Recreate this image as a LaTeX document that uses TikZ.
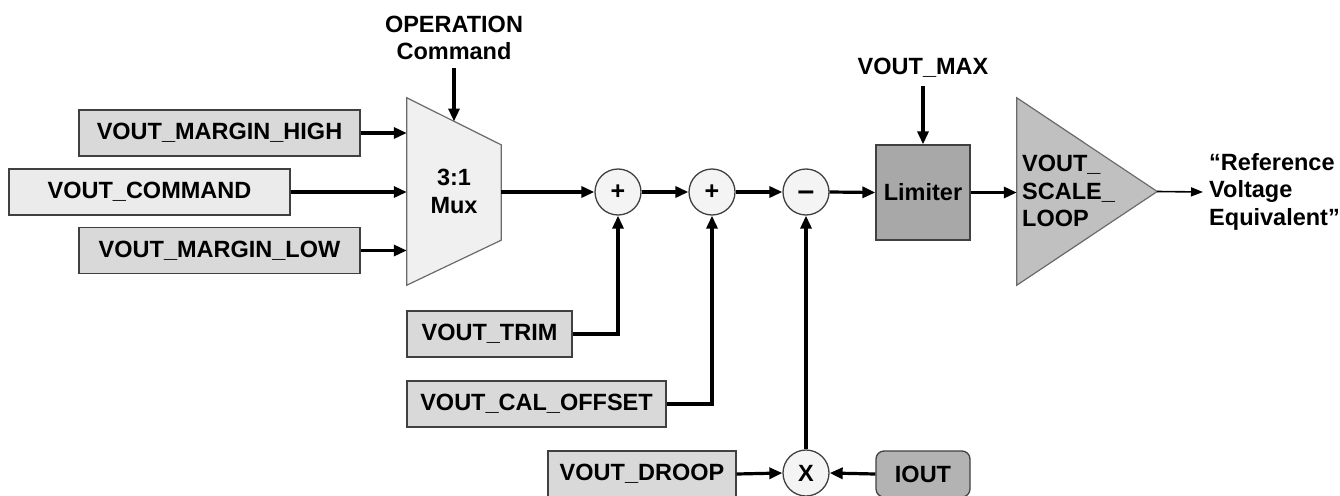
\documentclass[tikz,border=0pt]{standalone}
\usepackage{fontspec}
\setmainfont{Liberation Sans}
\usetikzlibrary{arrows.meta,calc,backgrounds}
\definecolor{boxgray}{HTML}{D9D9D9}
\definecolor{lightbox}{HTML}{EBEBEB}
\definecolor{muxfill}{HTML}{F0F0F0}
\definecolor{circfill}{HTML}{F4F4F4}
\definecolor{limgray}{HTML}{A8A8A8}
\definecolor{ampgray}{HTML}{C0C0C0}
\definecolor{ioutgray}{HTML}{B3B3B3}
\definecolor{bordergray}{HTML}{404040}
\definecolor{shapeborder}{HTML}{6A6A6A}
\begin{document}
\begin{tikzpicture}[x=1pt,y=-1pt,
  font=\fontsize{23.5}{27.5}\selectfont\bfseries,
  box/.style={draw=bordergray, line width=1.3pt, minimum height=46pt, inner sep=0pt, fill=boxgray},
  sumnode/.style={circle, draw=bordergray, line width=1.3pt, fill=circfill, minimum size=46pt, inner sep=0pt, font=\fontsize{25}{26}\selectfont\bfseries},
  conn/.style={line width=3.2pt, -{Triangle[length=13pt,width=11pt]}},
  thinconn/.style={line width=1.6pt, -{Triangle[length=12pt,width=9pt]}},
  txt/.style={inner sep=0pt, align=center}]
\clip (0,0) rectangle (1340,495);

% input boxes
\node[box, minimum width=281pt] (mh) at (219.5,133) {VOUT\_MARGIN\_HIGH};
\node[box, fill=lightbox, minimum width=281pt] (cmd) at (149.5,192) {VOUT\_COMMAND};
\node[box, minimum width=281pt] (ml) at (219.5,250.5) {VOUT\_MARGIN\_LOW};

% mux
\node[txt, minimum width=94pt, minimum height=187pt] (mux) at (454,191.5) {3:1\\[1pt]Mux};
\begin{pgfonlayer}{background}
\draw[draw=shapeborder, line width=1.2pt, fill=muxfill]
  (mux.north west) -- ($(mux.north east)+(0,47)$) -- ($(mux.south east)+(0,-45)$) -- (mux.south west) -- cycle;
\end{pgfonlayer}
\node[txt] (op) at (454,38) {OPERATION\\Command};
\coordinate (opsrc) at (454,68);
\coordinate (opin) at (454,121.5);
\draw[conn] (opsrc) -- (opin);

\draw[conn] (mh.east) -- (mh.east -| mux.west);
\draw[conn] (cmd.east) -- (cmd.east -| mux.west);
\draw[conn] (ml.east) -- (ml.east -| mux.west);

% summing nodes
\node[sumnode] (s1) at (618,192) {+};
\node[sumnode] (s2) at (712,192) {+};
\node[sumnode, font=\fontsize{30}{30}\selectfont\bfseries] (s3) at (806,192) {\raisebox{-8.3pt}[0pt][0pt]{–}};

% limiter
\node[box, fill=limgray, minimum width=94pt, minimum height=95pt] (lim) at (923,192.5) {Limiter};
\node[txt] (vmax) at (923,68) {VOUT\_MAX};
\coordinate (vmaxsrc) at (923,86);
\draw[conn] (vmaxsrc) -- (lim.north);

% amplifier
\node[inner sep=0pt, minimum width=140pt, minimum height=187pt] (amp) at (1087,191.5) {};
\begin{pgfonlayer}{background}
\draw[draw=shapeborder, line width=1.2pt, fill=ampgray]
  (amp.north west) -- (amp.east) -- (amp.south west) -- cycle;
\end{pgfonlayer}
\node[inner sep=0pt, anchor=west, align=left] (amptxt) at (1022,191) {VOUT\_\\SCALE\_\\LOOP};

\node[inner sep=0pt, anchor=west, align=left] (ref) at (1209,191.5) {“Reference\\Voltage\\Equivalent”};
\coordinate (out) at (1203,192);

\draw[conn] (mux.east |- s1.west) -- (s1.west);
\draw[conn] (s1.east) -- (s2.west);
\draw[conn] (s2.east) -- (s3.west);
\draw[conn] (s3.east) -- (lim.west);
\draw[conn] (lim.east) -- (amp.west |- lim.east);
\draw[thinconn] (amp.east) -- (out);

% lower inputs
\node[box, minimum width=165pt] (trim) at (489.5,334) {VOUT\_TRIM};
\node[box, minimum width=259pt] (cal) at (536.5,404) {VOUT\_CAL\_OFFSET};
\node[box, minimum width=188pt] (droop) at (642,474) {VOUT\_DROOP};
\node[sumnode, font=\fontsize{23.5}{26}\selectfont\bfseries] (mx) at (806,473) {X};
\node[box, fill=ioutgray, rounded corners=8pt, minimum width=94pt] (iout) at (923,474) {IOUT};

\draw[conn] (trim.east) -| (s1.south);
\draw[conn] (cal.east) -| (s2.south);
\draw[conn] (mx.north) -- (s3.south);
\draw[conn] (droop.east) -- (mx.west);
\draw[conn] (iout.west) -- (mx.east);
\end{tikzpicture}
\end{document}
